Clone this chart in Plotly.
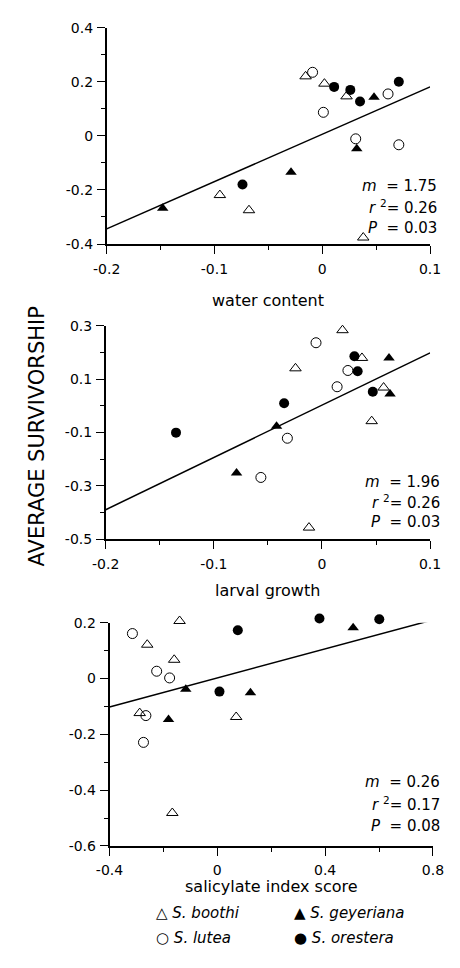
import plotly.graph_objects as go

W, H = 460, 968

# ---------------- data ----------------
# Panel 1: water content
p1_boothi_x = [-0.0155, 0.002, 0.0225, -0.095, -0.068, 0.038]
p1_boothi_y = [0.220, 0.193, 0.146, -0.219, -0.275, -0.376]
p1_lutea_x = [-0.009, 0.061, 0.001, 0.031, 0.071]
p1_lutea_y = [0.235, 0.155, 0.087, -0.011, -0.033]
p1_geyer_x = [0.048, -0.148, -0.029, 0.032]
p1_geyer_y = [0.143, -0.268, -0.135, -0.048]
p1_orest_x = [0.011, 0.026, 0.035, 0.071, -0.074]
p1_orest_y = [0.181, 0.170, 0.127, 0.200, -0.180]

# Panel 2: larval growth
p2_boothi_x = [0.019, 0.037, -0.0245, 0.057, 0.046, -0.012]
p2_boothi_y = [0.283, 0.179, 0.140, 0.068, -0.058, -0.457]
p2_lutea_x = [-0.0055, 0.024, 0.014, -0.032, -0.0565]
p2_lutea_y = [0.236, 0.132, 0.071, -0.122, -0.269]
p2_geyer_x = [0.062, 0.063, -0.042, -0.079]
p2_geyer_y = [0.179, 0.044, -0.077, -0.252]
p2_orest_x = [0.030, 0.033, 0.047, -0.035, -0.135]
p2_orest_y = [0.185, 0.129, 0.052, 0.009, -0.101]

# Panel 3: salicylate index score
p3_boothi_x = [-0.14, -0.26, -0.16, -0.288, 0.07, -0.167]
p3_boothi_y = [0.206, 0.121, 0.067, -0.124, -0.138, -0.482]
p3_lutea_x = [-0.315, -0.225, -0.177, -0.265, -0.274]
p3_lutea_y = [0.161, 0.026, 0.002, -0.133, -0.229]
p3_geyer_x = [0.504, -0.117, 0.123, -0.181]
p3_geyer_y = [0.182, -0.039, -0.051, -0.147]
p3_orest_x = [0.076, 0.379, 0.601, 0.008]
p3_orest_y = [0.173, 0.215, 0.212, -0.047]

fit_m = [1.75, 1.96, 0.26]
fit_b = [0.006, 0.002, 0.002]
stat_m = ["1.75", "1.96", "0.26"]
stat_r2 = ["0.26", "0.26", "0.17"]
stat_p = ["0.03", "0.03", "0.08"]

x_titles = ["water content", "larval growth", "salicylate index score"]
x_ranges = [[-0.2, 0.1], [-0.2, 0.1], [-0.4, 0.8]]
y_ranges = [[-0.4, 0.4], [-0.5, 0.3], [-0.6, 0.2]]
x_tickvals = [[-0.2, -0.1, 0, 0.1], [-0.2, -0.1, 0, 0.1], [-0.4, 0, 0.4, 0.8]]
x_ticktext = [["-0.2", "-0.1", "0", "0.1"], ["-0.2", "-0.1", "0", "0.1"], ["-0.4", "0", "0.4", "0.8"]]
x_minor = [[-0.15, -0.05, 0.05], [-0.15, -0.05, 0.05], [-0.2, 0.2, 0.6]]
y_tickvals = [[-0.4, -0.2, 0, 0.2, 0.4], [-0.5, -0.3, -0.1, 0.1, 0.3], [-0.6, -0.4, -0.2, 0, 0.2]]
y_ticktext = [["-0.4", "-0.2", "0", "0.2", "0.4"], ["-0.5", "-0.3", "-0.1", "0.1", "0.3"],
              ["-0.6", "-0.4", "-0.2", "0", "0.2"]]
y_minor = [[-0.3, -0.1, 0.1, 0.3], [-0.4, -0.2, 0, 0.2], [-0.5, -0.3, -0.1, 0.1]]

legend_names = ["S. boothi", "S. geyeriana", "S. lutea", "S. orestera"]
legend_glyphs = ["\u25B3", "\u25B2", "\u25CB", "\u25CF"]

panels = [
    (p1_boothi_x, p1_boothi_y, p1_lutea_x, p1_lutea_y, p1_geyer_x, p1_geyer_y, p1_orest_x, p1_orest_y),
    (p2_boothi_x, p2_boothi_y, p2_lutea_x, p2_lutea_y, p2_geyer_x, p2_geyer_y, p2_orest_x, p2_orest_y),
    (p3_boothi_x, p3_boothi_y, p3_lutea_x, p3_lutea_y, p3_geyer_x, p3_geyer_y, p3_orest_x, p3_orest_y),
]

# ---------------- layout (pixel boxes) ----------------
boxes = [  # left, right, top, bottom in pixels
    (98, 440, 20, 240),
    (97, 440, 323, 540),
    (101, 443, 625, 852),
]
title_y = [297, 592, 893]
stat_y = [(181, 202, 224), (482, 502, 523), (787, 809, 832)]
stat_right = [449, 453, 453]
PAD = 15  # px of extra room for markers near the frame


def px(xp):
    return xp / W


def py(yp):
    return 1 - yp / H


FONT = "DejaVu Sans, Verdana, sans-serif"
fig = go.Figure()

marker_styles = [
    dict(symbol="triangle-up-open", size=10, color="black", line=dict(color="black", width=1)),
    dict(symbol="circle-open", size=10, color="black", line=dict(color="black", width=1)),
    dict(symbol="triangle-up", size=10, color="black", line=dict(color="black", width=0)),
    dict(symbol="circle", size=10, color="black", line=dict(color="black", width=0)),
]

annotations = []
layout_axes = {}
for i, pdata in enumerate(panels):
    n = i + 1
    xa = "x" if n == 1 else f"x{n}"
    ya = "y" if n == 1 else f"y{n}"
    ym = f"y{n + 3}"  # invisible marker axis with extra headroom
    l, r, t, b = boxes[i]
    xr = x_ranges[i]
    yr = y_ranges[i]
    per_px = (yr[1] - yr[0]) / (b - t)
    ymr = [yr[0] - PAD * per_px, yr[1] + PAD * per_px]

    lx = [xr[0], xr[1]]
    ly = [fit_m[i] * v + fit_b[i] for v in lx]
    fig.add_trace(go.Scatter(x=lx, y=ly, mode="lines", line=dict(color="black", width=1.5),
                             xaxis=xa, yaxis=ya, showlegend=False, hoverinfo="skip"))
    for k in range(4):
        fig.add_trace(go.Scatter(x=pdata[2 * k], y=pdata[2 * k + 1], mode="markers",
                                 marker=marker_styles[k], xaxis=xa, yaxis=ym,
                                 showlegend=False, cliponaxis=False))
    axkey = "xaxis" if n == 1 else f"xaxis{n}"
    aykey = "yaxis" if n == 1 else f"yaxis{n}"
    amkey = f"yaxis{n + 3}"
    layout_axes[axkey] = dict(
        domain=[px(l), px(r)], range=xr, anchor=ya, showgrid=False, zeroline=False,
        showline=True, linecolor="black", linewidth=1.5, ticks="outside", ticklen=8,
        tickwidth=1, tickcolor="black", tickvals=x_tickvals[i], ticktext=x_ticktext[i],
        ticklabelstandoff=3,
        tickfont=dict(family=FONT, size=14, color="black"),
        minor=dict(tickvals=x_minor[i], ticks="outside", ticklen=4, tickcolor="black",
                   tickwidth=1))
    layout_axes[aykey] = dict(
        domain=[py(b), py(t)], range=yr, anchor=xa, showgrid=False,
        zeroline=False, showline=True, linecolor="black", linewidth=1.5,
        ticks="outside", ticklen=8, tickwidth=1, tickcolor="black",
        tickvals=y_tickvals[i], ticktext=y_ticktext[i], ticklabelstandoff=1,
        tickfont=dict(family=FONT, size=14, color="black"),
        minor=dict(tickvals=y_minor[i], ticks="outside", ticklen=4, tickcolor="black",
                   tickwidth=1))
    layout_axes[amkey] = dict(domain=[py(b + PAD), py(t - PAD)], range=ymr, anchor=xa,
                              visible=False, showgrid=False, zeroline=False)
    # x-axis title
    annotations.append(dict(text=x_titles[i], x=px((l + r) / 2), y=py(title_y[i]), xref="paper",
                            yref="paper", showarrow=False, xanchor="center", yanchor="middle",
                            font=dict(family=FONT, size=16, color="black")))
    # statistics
    s_lines = [f"<i>m</i>  = {stat_m[i]}", f"<i>r</i> <sup>2</sup>= {stat_r2[i]}",
               f"<i>P</i>  = {stat_p[i]}"]
    for s, yy in zip(s_lines, stat_y[i]):
        annotations.append(dict(text=s, x=px(stat_right[i]), y=py(yy), xref="paper", yref="paper",
                                showarrow=False, xanchor="right", yanchor="middle",
                                font=dict(family=FONT, size=15, color="black")))

# y title
annotations.append(dict(text="AVERAGE SURVIVORSHIP", x=px(24), y=py(436), xref="paper", yref="paper",
                        showarrow=False, textangle=-90, xanchor="center", yanchor="middle",
                        font=dict(family=FONT, size=21, color="black")))

# legend
leg_pos = [(148, 920), (294, 920), (148, 946), (294, 946)]
for (lxp, lyp), g, nm in zip(leg_pos, legend_glyphs, legend_names):
    annotations.append(dict(text=f"{g} <i>{nm}</i>", x=px(lxp), y=py(lyp), xref="paper",
                            yref="paper", showarrow=False, xanchor="left", yanchor="middle",
                            font=dict(family=FONT, size=15, color="black")))

fig.update_layout(width=W, height=H, margin=dict(l=0, r=0, t=0, b=0), paper_bgcolor="white",
                  plot_bgcolor="rgba(0,0,0,0)", annotations=annotations, showlegend=False,
                  **layout_axes)

fig.write_html("out.html")
